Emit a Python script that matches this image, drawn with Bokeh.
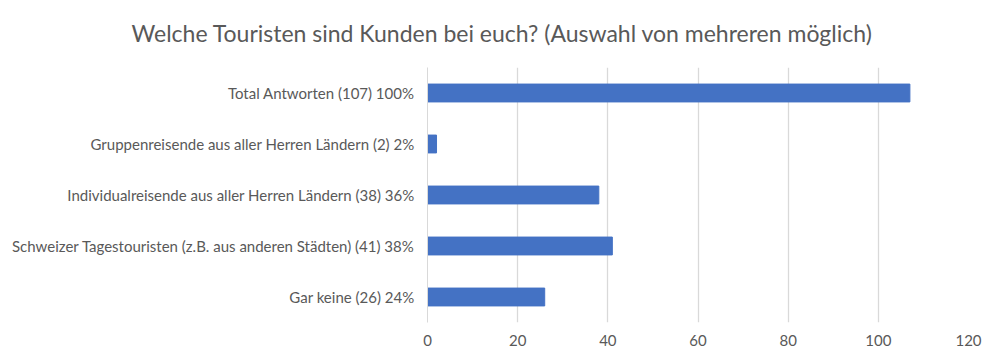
from bokeh.plotting import figure
from bokeh.models import Range1d, FixedTicker
from bokeh.embed import file_html
from bokeh.resources import INLINE

title_text = "Welche Touristen sind Kunden bei euch? (Auswahl von mehreren möglich)"
categories = [
    "Total Antworten (107) 100%",
    "Gruppenreisende aus aller Herren Ländern (2) 2%",
    "Individualreisende aus aller Herren Ländern (38) 36%",
    "Schweizer Tagestouristen (z.B. aus anderen Städten) (41) 38%",
    "Gar keine (26) 24%",
]
values = [107, 2, 38, 41, 26]
x_ticks = [0, 20, 40, 60, 80, 100, 120]

FONT = "Lato"
TEXT = "#595959"

p = figure(
    width=992, height=356,
    y_range=list(reversed(categories)),
    x_range=Range1d(0, 120),
    output_backend="svg", toolbar_location=None,
    min_border_left=427, min_border_right=24,
    min_border_top=67, min_border_bottom=34,
)
p.hbar(y=categories, right=values, left=0, height=0.35,
       fill_color="#4472C4", line_color="#4472C4")

p.title.text = title_text
p.title.align = "left"
p.title.vertical_align = "top"
p.title.offset = -296
p.title.standoff = 37
p.title.text_font = FONT
p.title.text_font_size = "23px"
p.title.text_font_style = "normal"
p.title.text_color = TEXT

p.outline_line_color = None
p.ygrid.grid_line_color = None
p.xgrid.grid_line_color = "#D9D9D9"
p.xgrid.grid_line_width = 1.3
p.xaxis.ticker = FixedTicker(ticks=x_ticks)
p.xaxis.axis_line_color = None
p.xaxis.major_tick_line_color = None
p.xaxis.minor_tick_line_color = None
p.xaxis.major_label_standoff = 6
p.yaxis.axis_line_color = "#D9D9D9"
p.yaxis.major_tick_line_color = None
p.yaxis.minor_tick_line_color = None
p.yaxis.major_label_standoff = 7
for ax in (p.xaxis, p.yaxis):
    ax.major_label_text_font = FONT
    ax.major_label_text_font_size = "15px"
    ax.major_label_text_color = TEXT

open("out.html", "w").write(file_html(p, INLINE))
